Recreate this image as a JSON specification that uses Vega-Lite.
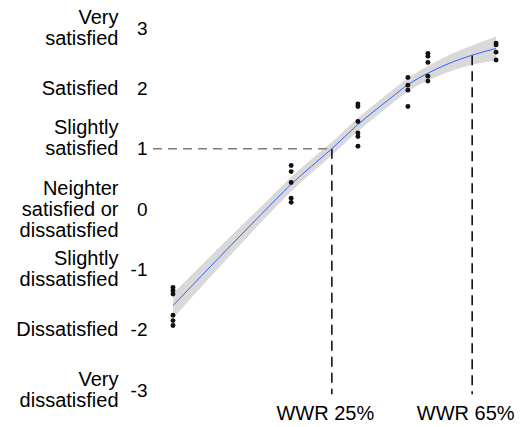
{
  "$schema": "https://vega.github.io/schema/vega-lite/v6.json",
  "width": 357,
  "height": 362,
  "autosize": {"type": "none"},
  "padding": {"left": 153, "top": 28, "right": 11, "bottom": 37},
  "config": {
    "view": {"stroke": null},
    "font": "Liberation Sans",
    "axis": {"grid": false, "domain": false, "ticks": false, "labelFont": "Liberation Sans", "labelFontSize": 19, "labelColor": "#000", "title": null, "labelOverlap": false}
  },
  "datasets": {
    "pts": [
      {"x": 5.6, "y": -1.30}, {"x": 5.6, "y": -1.35}, {"x": 5.6, "y": -1.41}, {"x": 5.6, "y": -1.76}, {"x": 5.6, "y": -1.85}, {"x": 5.6, "y": -1.93},
      {"x": 38.7, "y": 0.72}, {"x": 38.7, "y": 0.62}, {"x": 38.7, "y": 0.44}, {"x": 38.7, "y": 0.18}, {"x": 38.7, "y": 0.11},
      {"x": 57.4, "y": 1.74}, {"x": 57.4, "y": 1.70}, {"x": 57.4, "y": 1.45}, {"x": 57.4, "y": 1.26}, {"x": 57.4, "y": 1.20}, {"x": 57.4, "y": 1.04},
      {"x": 71.4, "y": 2.18}, {"x": 71.4, "y": 2.05}, {"x": 71.4, "y": 1.97}, {"x": 71.4, "y": 1.70},
      {"x": 77.0, "y": 2.58}, {"x": 77.0, "y": 2.53}, {"x": 77.0, "y": 2.43}, {"x": 77.0, "y": 2.20}, {"x": 77.0, "y": 2.12},
      {"x": 96.1, "y": 2.75}, {"x": 96.1, "y": 2.72}, {"x": 96.1, "y": 2.60}, {"x": 96.1, "y": 2.47}
    ],
    "fit": [
      {"x": 5.6, "fit": -1.60, "lo": -1.81, "hi": -1.40},
      {"x": 13.7, "fit": -1.10, "lo": -1.28, "hi": -0.92},
      {"x": 22.1, "fit": -0.585, "lo": -0.74, "hi": -0.43},
      {"x": 30.3, "fit": -0.09, "lo": -0.22, "hi": 0.04},
      {"x": 38.7, "fit": 0.41, "lo": 0.29, "hi": 0.53},
      {"x": 50.1, "fit": 1.0, "lo": 0.89, "hi": 1.11},
      {"x": 57.4, "fit": 1.40, "lo": 1.29, "hi": 1.51},
      {"x": 66.4, "fit": 1.83, "lo": 1.72, "hi": 1.94},
      {"x": 71.4, "fit": 2.06, "lo": 1.95, "hi": 2.17},
      {"x": 77.0, "fit": 2.25, "lo": 2.13, "hi": 2.37},
      {"x": 83.2, "fit": 2.42, "lo": 2.28, "hi": 2.56},
      {"x": 89.4, "fit": 2.55, "lo": 2.39, "hi": 2.71},
      {"x": 96.1, "fit": 2.66, "lo": 2.46, "hi": 2.86}
    ],
    "hrule": [{"x": 0, "x2": 50.1, "y": 1}],
    "vrule": [{"x": 50.1, "y": 1, "y2": -3.07}, {"x": 89.4, "y": 2.55, "y2": -3.07}]
  },
  "resolve": {"axis": {"y": "independent"}},
  "layer": [
    {
      "data": {"name": "fit"},
      "mark": {"type": "area", "color": "#d9d9d9", "interpolate": "monotone"},
      "encoding": {
        "x": {"field": "x", "type": "quantitative", "scale": {"domain": [0, 100], "nice": false, "zero": false},
              "axis": {"values": [50.1, 89.4], "labelExpr": "datum.value < 70 ? 'WWR 25%' : 'WWR 65%'", "labelPadding": 13, "labelOffset": -7, "labelFlush": false, "labelFontSize": 20}},
        "y": {"field": "lo", "type": "quantitative", "scale": {"domain": [-3, 3], "nice": false, "zero": false},
              "axis": {"orient": "left", "values": [-3, -2, -1, 0, 1, 2, 3], "labelPadding": 35, "labelLineHeight": 21, "labelAlign": "right", "labelFontSize": 20,
                       "labelOffset": {"condition": [{"test": "datum.value == 0 || datum.value == 1", "value": -21}, {"test": "datum.value == 2 || datum.value == -2", "value": 0}], "value": -10.5},
                       "labelExpr": "datum.value == 3 ? ['Very', 'satisfied'] : datum.value == 2 ? 'Satisfied' : datum.value == 1 ? ['Slightly', 'satisfied'] : datum.value == 0 ? ['Neighter', 'satisfied or', 'dissatisfied'] : datum.value == -1 ? ['Slightly', 'dissatisfied'] : datum.value == -2 ? 'Dissatisfied' : ['Very', 'dissatisfied']"}},
        "y2": {"field": "hi"}
      }
    },
    {
      "data": {"name": "hrule"},
      "mark": {"type": "rule", "color": "#7a7a7a", "strokeWidth": 1.5, "strokeDash": [9, 6]},
      "encoding": {
        "x": {"field": "x", "type": "quantitative", "scale": {"domain": [0, 100], "nice": false, "zero": false}},
        "x2": {"field": "x2"},
        "y": {"field": "y", "type": "quantitative", "scale": {"domain": [-3, 3], "nice": false, "zero": false}, "axis": null}
      }
    },
    {
      "data": {"name": "vrule"},
      "mark": {"type": "rule", "color": "#000", "strokeWidth": 1.5, "strokeDash": [10, 6]},
      "encoding": {
        "x": {"field": "x", "type": "quantitative", "scale": {"domain": [0, 100], "nice": false, "zero": false}},
        "y": {"field": "y", "type": "quantitative", "scale": {"domain": [-3, 3], "nice": false, "zero": false}, "axis": null},
        "y2": {"field": "y2"}
      }
    },
    {
      "data": {"name": "fit"},
      "mark": {"type": "line", "color": "#3366FF", "strokeWidth": 1, "interpolate": "monotone"},
      "encoding": {
        "x": {"field": "x", "type": "quantitative", "scale": {"domain": [0, 100], "nice": false, "zero": false}},
        "y": {"field": "fit", "type": "quantitative", "scale": {"domain": [-3, 3], "nice": false, "zero": false}, "axis": null}
      }
    },
    {
      "data": {"name": "pts"},
      "mark": {"type": "point", "filled": true, "color": "#111", "size": 24, "opacity": 1},
      "encoding": {
        "x": {"field": "x", "type": "quantitative", "scale": {"domain": [0, 100], "nice": false, "zero": false}},
        "y": {"field": "y", "type": "quantitative", "scale": {"domain": [-3, 3], "nice": false, "zero": false},
              "axis": {"orient": "left", "values": [-3, -2, -1, 0, 1, 2, 3], "labelPadding": 6, "labelExpr": "'' + datum.value"}}
      }
    }
  ]
}
